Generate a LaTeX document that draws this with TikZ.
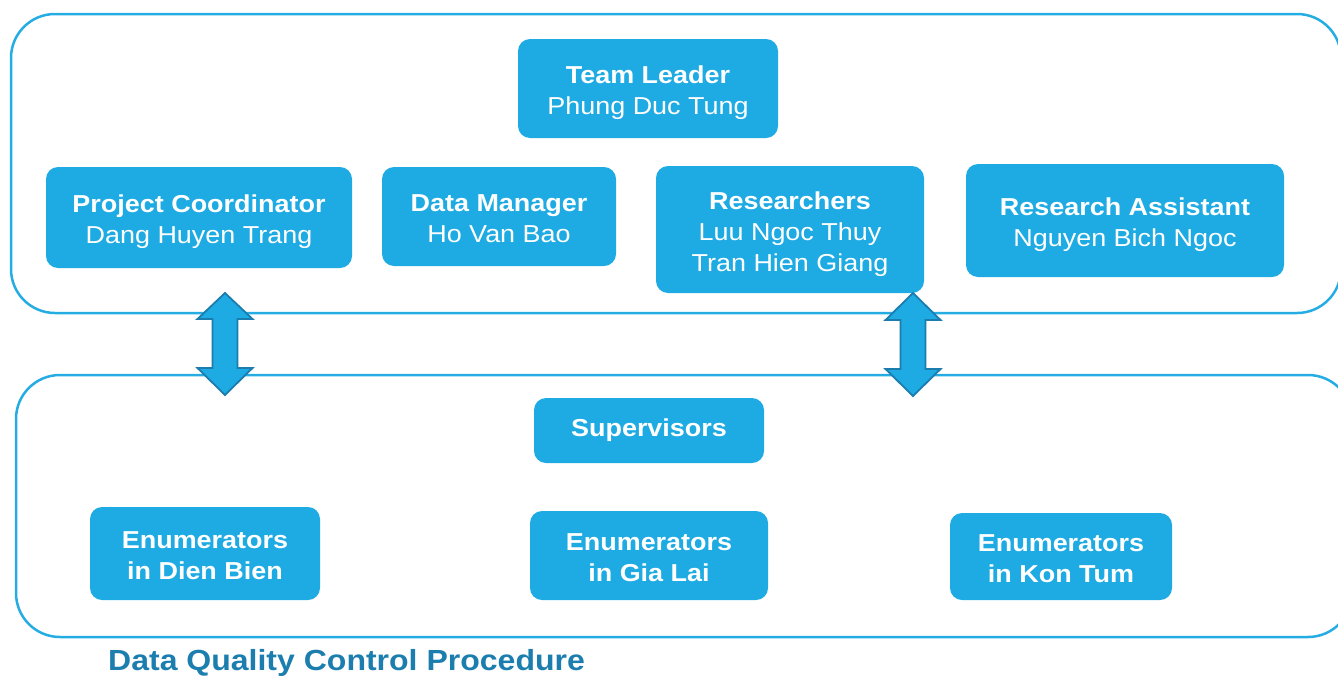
\documentclass[tikz,border=0pt]{standalone}
\usepackage{fontspec}
\setmainfont{Liberation Sans}[FakeStretch=1.1]
\definecolor{boxblue}{HTML}{1EAAE2}
\definecolor{frameblue}{HTML}{25ACE3}
\definecolor{arrowedge}{HTML}{1A7DAE}
\definecolor{titleblue}{HTML}{1B7EAF}
\newcommand{\bxtext}[1]{\raisebox{-4.5pt}[\height][\depth]{\begin{tabular}{@{}c@{}}#1\end{tabular}}}
\tikzset{
  box/.style={fill=boxblue, draw=none, rounded corners=12pt, text=white, align=center,
    inner sep=0pt, font=\fontsize{24.5}{31}\selectfont},
  frame/.style={draw=frameblue, line width=2.5pt, rounded corners=44pt, inner sep=0pt},
  blockarrow/.style={fill=boxblue, draw=arrowedge, line width=1.8pt, line join=miter}
}
\begin{document}
\begin{tikzpicture}[x=1pt,y=-1pt]
\useasboundingbox (0,0) rectangle (1338,675);
\clip (0,0) rectangle (1338,675);

% outer frames
\node[frame, minimum width=1330pt, minimum height=299pt] (upper) at (676,163.5) {};
\node[frame, minimum width=1336pt, minimum height=262pt] (lower) at (684,506) {};

% upper boxes
\node[box, minimum width=260pt, minimum height=99pt] (lead) at (648,88.5) {\bxtext{\textbf{Team Leader}\\Phung Duc Tung}};
\node[box, minimum width=306pt, minimum height=101pt] (coord) at (199,217.5) {\bxtext{\textbf{Project Coordinator}\\Dang Huyen Trang}};
\node[box, minimum width=234pt, minimum height=99pt] (dm) at (499,216.5) {\bxtext{\textbf{Data Manager}\\Ho Van Bao}};
\node[box, minimum width=268pt, minimum height=127pt] (res) at (790,229.5) {\bxtext{\textbf{Researchers}\\Luu Ngoc Thuy\\Tran Hien Giang}};
\node[box, minimum width=318pt, minimum height=113pt] (ra) at (1125,220.5) {\bxtext{\textbf{Research Assistant}\\Nguyen Bich Ngoc}};

% lower boxes
\node[box, minimum width=230pt, minimum height=65pt] (sup) at (649,430.5) {\textbf{Supervisors}};
\node[box, minimum width=230pt, minimum height=93pt] (e1) at (205,553.5) {\bxtext{\textbf{Enumerators}\\\textbf{in Dien Bien}}};
\node[box, minimum width=238pt, minimum height=89pt] (e2) at (649,555.5) {\bxtext{\textbf{Enumerators}\\\textbf{in Gia Lai}}};
\node[box, minimum width=222pt, minimum height=87pt] (e3) at (1061,556.5) {\bxtext{\textbf{Enumerators}\\\textbf{in Kon Tum}}};

% double block arrows between the frames
\draw[blockarrow] (225,293) -- (252.5,319) -- (237.5,319) -- (237.5,368) -- (252.5,368)
  -- (225,395) -- (197.5,368) -- (212.5,368) -- (212.5,319) -- (197.5,319) -- cycle;
\draw[blockarrow] (913,293) -- (940.5,320) -- (925.5,320) -- (925.5,369) -- (940.5,369)
  -- (913,396) -- (885.5,369) -- (900.5,369) -- (900.5,320) -- (885.5,320) -- cycle;

% title
\node[anchor=base west, inner sep=0pt, text=titleblue, font=\fontsize{29.1}{34}\selectfont\bfseries] (title) at (108,670) {Data Quality Control Procedure};
\end{tikzpicture}
\end{document}
